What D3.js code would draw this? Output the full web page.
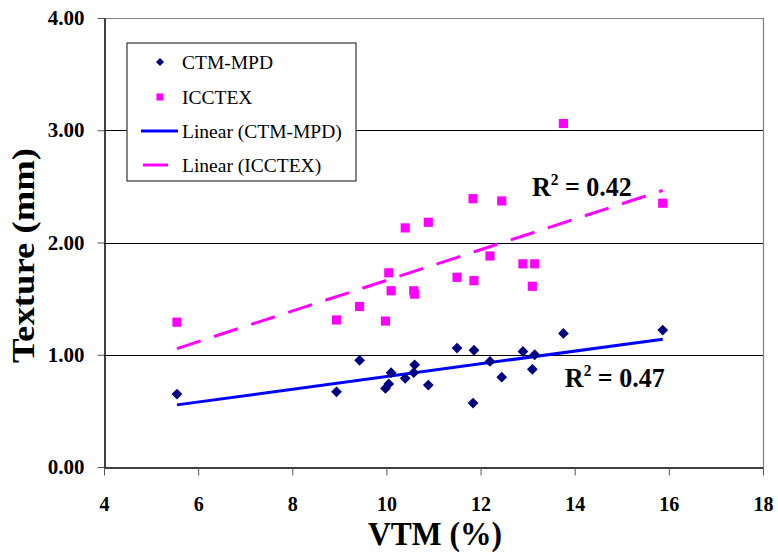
<!DOCTYPE html>
<html>
<head>
<meta charset="utf-8">
<script src="https://cdn.jsdelivr.net/npm/d3@7"></script>
<style>
body{margin:0;background:#fff;}
</style>
</head>
<body>
<svg width="778" height="554"></svg>
<script>
// VTM (%) per sample, shared by both series
const vtm = [5.55, 8.94, 9.43, 9.98, 10.05, 10.10, 10.40, 10.58, 10.60, 10.89, 11.50, 11.84, 11.86, 12.20, 12.45, 12.90, 13.10, 13.15, 13.76, 15.87];
const ctmMpd = [0.65, 0.67, 0.95, 0.70, 0.74, 0.84, 0.79, 0.84, 0.91, 0.73, 1.06, 0.57, 1.04, 0.94, 0.80, 1.03, 0.87, 1.00, 1.19, 1.22];
const icctex = [1.29, 1.31, 1.43, 1.30, 1.73, 1.57, 2.13, 1.57, 1.54, 2.18, 1.69, 2.39, 1.66, 1.88, 2.37, 1.81, 1.61, 1.81, 3.06, 2.35];
const xTicks = [4, 6, 8, 10, 12, 14, 16, 18];
const yTicks = [0, 1, 2, 3, 4];
const legendNames = ['CTM-MPD', 'ICCTEX', 'Linear (CTM-MPD)', 'Linear (ICCTEX)'];
const rSquared = ['0.47', '0.42'];

const FONT = '"Liberation Serif", "Times New Roman", serif';
const svg = d3.select('svg');
const x = d3.scaleLinear().domain([4, 18]).range([104, 763]);
const y = d3.scaleLinear().domain([0, 4]).range([467, 18]);

// least squares fit
function fit(xs, ys) {
  const mx = d3.mean(xs), my = d3.mean(ys);
  let sxy = 0, sxx = 0;
  xs.forEach((v, i) => { sxy += (v - mx) * (ys[i] - my); sxx += (v - mx) * (v - mx); });
  const b = sxy / sxx;
  const a = my - b * mx;
  const ext = d3.extent(xs);
  return ext.map(v => [v, a + b * v]);
}

// gridlines
svg.selectAll('.grid')
  .data(yTicks.filter(d => d > 0 && d < 4))
  .enter()
  .append('line')
  .attr('x1', x(4)).attr('x2', x(18))
  .attr('y1', d => Math.round(y(d)) + 0.5).attr('y2', d => Math.round(y(d)) + 0.5)
  .attr('stroke', '#000').attr('stroke-width', 1);

// top and right border
svg.append('path')
  .attr('d', `M${x(4)},${Math.round(y(4)) + 0.5}H${Math.round(x(18)) + 0.5}V${y(0)}`)
  .attr('fill', 'none').attr('stroke', '#808080').attr('stroke-width', 1.2);

// axes
const yAxis = svg.append('g')
  .attr('transform', `translate(${Math.round(x(4)) + 0.5},0)`)
  .call(d3.axisLeft(y).tickValues(yTicks).tickFormat(d3.format('.2f')).tickSize(7).tickSizeOuter(0).tickPadding(13));
const xAxis = svg.append('g')
  .attr('transform', `translate(0,${Math.round(y(0)) + 0.5})`)
  .call(d3.axisBottom(x).tickValues(xTicks).tickSize(8).tickSizeOuter(0).tickPadding(21));
[yAxis, xAxis].forEach(g => {
  g.select('.domain').attr('stroke', '#000').attr('stroke-width', 1.5);
  g.selectAll('.tick line').attr('stroke', '#555');
  g.selectAll('text')
    .attr('fill', '#000')
    .style('font-family', FONT)
    .style('font-weight', 'bold');
});
yAxis.selectAll('text').style('font-size', '21px');
xAxis.selectAll('text').style('font-size', '20px');

// trend lines
const line = d3.line().x(d => x(d[0])).y(d => y(d[1]));
svg.append('path')
  .attr('d', line(fit(vtm, ctmMpd)))
  .attr('stroke', '#0000ff').attr('stroke-width', 3).attr('fill', 'none');
svg.append('path')
  .attr('d', line(fit(vtm, icctex)))
  .attr('stroke', '#ff00ff').attr('stroke-width', 3).attr('fill', 'none')
  .attr('stroke-dasharray', '25,14');

// points
const diamond = d3.symbol().type(d3.symbolSquare).size(58);
const square = d3.symbol().type(d3.symbolSquare).size(84);
svg.selectAll('.ctm')
  .data(vtm)
  .enter()
  .append('path')
  .classed('ctm', true)
  .attr('d', diamond)
  .attr('transform', (d, i) => `translate(${x(d)},${y(ctmMpd[i])}) rotate(45)`)
  .attr('fill', '#000080');
svg.selectAll('.icc')
  .data(vtm)
  .enter()
  .append('path')
  .classed('icc', true)
  .attr('d', square)
  .attr('transform', (d, i) => `translate(${x(d)},${y(icctex[i])})`)
  .attr('fill', '#ff00ff');

// R² labels
const rPos = [[13.79, 0.71], [13.09, 2.41]];
rSquared.forEach((r, i) => {
  const t = svg.append('text')
    .attr('x', x(rPos[i][0])).attr('y', y(rPos[i][1]))
    .style('font-family', FONT).style('font-size', '27px').style('font-weight', 'bold')
    .attr('textLength', 100).attr('lengthAdjust', 'spacingAndGlyphs');
  t.append('tspan').text('R');
  t.append('tspan').attr('dy', -11).style('font-size', '16px').text('2');
  t.append('tspan').attr('dy', 11).text(' = ' + r);
});

// legend
const lg = svg.append('g').attr('transform', 'translate(127,43)');
lg.append('rect')
  .attr('width', 229).attr('height', 138)
  .attr('fill', '#fff').attr('stroke', '#444').attr('stroke-width', 1.3);
const rowY = [19, 54, 88, 122];
const items = lg.selectAll('.item')
  .data(legendNames)
  .enter()
  .append('g')
  .attr('transform', (d, i) => `translate(0,${rowY[i]})`);
items.append('text')
  .attr('x', 55).attr('dy', '0.35em')
  .style('font-family', FONT).style('font-size', '19.5px')
  .text(d => d);
items.filter((d, i) => i === 0).append('path')
  .attr('d', d3.symbol().type(d3.symbolSquare).size(32))
  .attr('transform', 'translate(33,0) rotate(45)')
  .attr('fill', '#000080');
items.filter((d, i) => i === 1).append('path')
  .attr('d', d3.symbol().type(d3.symbolSquare).size(50))
  .attr('transform', 'translate(33,0)')
  .attr('fill', '#ff00ff');
items.filter((d, i) => i === 2).append('line')
  .attr('x1', 14).attr('x2', 51)
  .attr('stroke', '#0000ff').attr('stroke-width', 3);
items.filter((d, i) => i === 3).append('line')
  .attr('x1', 16).attr('x2', 41)
  .attr('stroke', '#ff00ff').attr('stroke-width', 3);

// axis titles
svg.append('text')
  .attr('transform', 'translate(34,255.5) rotate(-90)')
  .attr('text-anchor', 'middle')
  .attr('textLength', 215).attr('lengthAdjust', 'spacingAndGlyphs')
  .style('font-family', FONT).style('font-size', '31px').style('font-weight', 'bold')
  .text('Texture (mm)');
svg.append('text')
  .attr('x', 435).attr('y', 545)
  .attr('text-anchor', 'middle')
  .attr('textLength', 134).attr('lengthAdjust', 'spacingAndGlyphs')
  .style('font-family', FONT).style('font-size', '33px').style('font-weight', 'bold')
  .text('VTM (%)');
</script>
</body>
</html>
